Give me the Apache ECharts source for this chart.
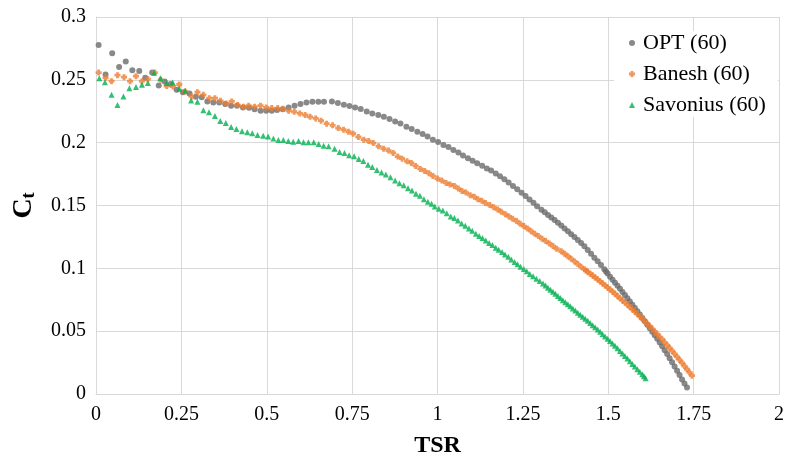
<!DOCTYPE html>
<html>
<head>
<meta charset="utf-8">
<script src="https://cdn.jsdelivr.net/npm/echarts@6/dist/echarts.min.js"></script>
<style>
html,body{margin:0;padding:0;background:#fff;}
#chart{width:787px;height:463px;}
</style>
</head>
<body>
<div id="chart"></div>
<script>
// ---- data ----
const seriesNames = ['OPT (60)', 'Banesh (60)', 'Savonius (60)'];
const xTickLabels = ['0','0.25','0.5','0.75','1','1.25','1.5','1.75','2'];
const yTickLabels = ['0','0.05','0.1','0.15','0.2','0.25','0.3'];

const optTsr = [0.0077,0.028,0.0474,0.0677,0.0871,0.1064,0.1267,0.1442,0.1645,0.1838,0.2012,0.2187,0.2361,0.2545,0.2738,0.2922,0.3096,0.326,0.3435,0.3609,0.3783,0.3957,0.4131,0.4305,0.448,0.4644,0.4818,0.4983,0.5147,0.5302,0.5466,0.564,0.5815,0.5989,0.6163,0.6337,0.6511,0.6676,
0.6909,0.7083,0.7258,0.7422,0.7587,0.7752,0.7926,0.8091,0.8266,0.843,0.8595,0.876,0.8915,0.9089,0.9244,0.9409,0.9564,0.9709,0.9864,1.0019,1.0174,1.032,1.0465,1.0611,1.0746,1.0891,1.1027,1.1163,1.1308,1.1444,1.157,1.1705,1.1831,1.1957,1.2083,1.2209,1.2335,1.2461,1.2578,1.2694,1.281,
1.2917,1.3043,1.314,1.3236,1.3333,1.343,1.3527,1.3624,1.3721,1.3818,1.3915,1.4012,1.4109,1.4205,1.4302,1.4399,1.4496,1.4593,1.469,1.4787,1.4884,
1.4932,1.4981,1.5053,1.5126,1.5198,1.5271,1.5344,1.5417,1.5489,1.5562,1.5634,1.5707,1.578,1.5853,1.5925,1.5998,1.607,1.6143,1.6216,1.6289,1.6361,1.6434,1.6506,1.6579,1.6652,1.6725,1.6797,1.687,1.6943,1.7016,1.7088,1.7161,1.7233,1.7306];
const optCt = [0.2778,0.2542,0.2712,0.2603,0.2646,0.2577,0.2571,0.2516,0.2558,0.2455,0.2487,0.2466,0.2421,0.2402,0.2392,0.2365,0.2362,0.2328,0.232,0.232,0.2307,0.2294,0.2294,0.228,0.2278,0.2265,0.2254,0.2254,0.2254,0.2259,0.2265,0.228,0.2294,0.2307,0.232,0.2325,0.2325,0.2325,
0.2328,0.2315,0.2302,0.2291,0.228,0.2267,0.2249,0.2233,0.222,0.2206,0.2188,0.2169,0.2153,0.2127,0.2108,0.2087,0.2069,0.205,0.2024,0.2005,0.1981,0.1966,0.1942,0.1921,0.1897,0.1876,0.1857,0.1836,0.1817,0.1794,0.1778,0.1754,0.1733,0.1708,0.1683,0.1656,0.1629,0.1601,0.1575,0.1548,0.1521,
0.1495,0.1467,0.1446,0.1425,0.1405,0.1384,0.1362,0.134,0.1317,0.1295,0.1272,0.1249,0.1226,0.1201,0.1176,0.1146,0.1117,0.1085,0.1056,0.1027,0.0992,
0.0975,0.0958,0.0934,0.091,0.0886,0.0862,0.0837,0.0812,0.0787,0.0762,0.0737,0.0711,0.0685,0.0658,0.0632,0.0605,0.0578,0.0551,0.0523,0.0495,0.0467,0.0439,0.041,0.038,0.0349,0.0318,0.0285,0.0252,0.0219,0.0185,0.0151,0.0116,0.0084,0.0051];

const baneshTsr = [0.0077,0.028,0.0455,0.0629,0.0822,0.0997,0.1171,0.1345,0.1519,0.1722,0.1896,0.207,0.2254,0.2438,0.2612,0.2796,0.297,0.3144,0.3318,0.3483,0.3647,0.3812,0.3976,0.4151,0.4315,0.447,0.4644,0.4818,0.4983,0.5147,0.5321,0.5476,0.564,0.5805,0.5969,0.6124,0.6269,0.6434,0.6589,0.6753,
0.6928,0.7093,0.7248,0.7393,0.7529,0.7684,0.7839,0.7984,0.812,0.8275,0.842,0.8566,0.8702,0.8837,0.8963,0.9109,0.9234,0.936,0.9496,0.9622,0.9748,0.9864,1.0,1.0126,1.0252,1.0368,1.0494,1.061,1.0717,1.0833,1.0959,1.1076,1.1182,1.1298,1.1405,1.1531,
1.1647,1.1764,1.187,1.1986,1.2093,1.22,1.2316,1.2422,1.2529,1.2636,1.2742,1.2849,1.2955,1.3062,1.3169,1.3275,1.3382,1.3488,
1.3624,1.3721,1.3818,1.3915,1.4012,1.4109,1.4205,1.4302,
1.435,1.4399,1.4472,1.4545,1.4617,1.469,1.4763,1.4835,1.4908,1.4981,1.5053,1.5126,1.5198,1.5271,1.5344,1.5417,1.5489,1.5562,1.5634,1.5707,1.578,1.5853,1.5925,1.5998,1.607,1.6143,1.6216,1.6289,1.6361,1.6434,1.6506,1.6579,1.6652,1.6725,1.6797,1.687,1.6943,1.7016,1.7088,1.7161,1.7233,1.7306,1.7379,1.7452];
const baneshCt = [0.2558,0.2516,0.2489,0.2537,0.2521,0.2489,0.2529,0.2489,0.2505,0.2558,0.25,0.245,0.2447,0.2463,0.2407,0.2368,0.2402,0.2381,0.2354,0.2354,0.2333,0.2312,0.2328,0.2299,0.2286,0.2294,0.2286,0.2294,0.228,0.2275,0.2275,0.227,0.2254,0.2246,0.2233,0.222,0.2206,0.2193,0.2175,0.2151,
0.2138,0.2116,0.2103,0.2087,0.2071,0.2045,0.2024,0.2013,0.1997,0.1971,0.1952,0.1937,0.1918,0.1889,0.1873,0.1852,0.1839,0.1815,0.1791,0.1775,0.1757,0.1735,0.1714,0.1698,0.168,0.1667,0.1656,0.1635,0.1616,0.1603,0.1582,0.1569,0.155,0.1537,0.1519,0.1503,
0.1487,0.1468,0.145,0.1431,0.1413,0.1394,0.1376,0.1354,0.1336,0.1317,0.1296,0.1275,0.1257,0.1235,0.1217,0.1198,0.1177,0.1156,
0.1136,0.1116,0.1096,0.1076,0.1055,0.1034,0.1012,0.0992,
0.0983,0.0972,0.0957,0.0942,0.0927,0.0912,0.0896,0.088,0.0864,0.0848,0.0831,0.0814,0.0797,0.0779,0.0762,0.0745,0.0728,0.071,0.0692,0.0673,0.0655,0.0636,0.0617,0.0598,0.0579,0.0559,0.0539,0.0519,0.0498,0.0476,0.0455,0.0434,0.0411,0.0388,0.0366,0.0343,0.0319,0.0295,0.0271,0.0247,0.0222,0.0197,0.0172,0.0146];

const savTsr = [0.0097,0.0261,0.0455,0.0629,0.0803,0.0977,0.1171,0.1345,0.1519,0.1703,0.1887,0.207,0.2245,0.2438,0.2612,0.2786,0.297,0.3144,0.3309,0.3483,0.3638,0.3802,0.3957,0.4112,0.4276,0.4431,0.4576,0.4731,0.4895,0.504,0.5195,0.534,0.5486,0.5631,0.5776,0.5931,0.6076,0.6221,0.6376,0.6521,0.6666,0.6811,
0.6986,0.7132,0.7277,0.7413,0.7558,0.7694,0.783,0.7965,0.8091,0.8227,0.8362,0.8488,0.8624,0.876,0.8886,0.9012,0.9138,0.9254,0.937,0.9486,0.9603,0.9719,0.9826,
0.9922,1.0039,1.0155,1.0271,1.0388,1.0494,1.0601,1.0707,1.0814,1.0921,1.1017,1.1124,1.1221,1.1318,1.1415,1.1512,1.1609,1.1705,1.1792,1.189,1.1977,1.2074,1.2161,1.2258,1.2345,1.2432,1.2529,1.2616,1.2703,1.28,1.2897,1.2994,
1.3091,1.3164,1.3236,1.3309,1.3382,1.3454,1.3527,1.36,1.3672,1.3745,1.3818,1.389,1.3963,1.4036,1.4109,1.4181,1.4254,1.4326,1.4399,1.4472,1.4545,1.4617,1.469,1.4763,1.4835,1.4908,1.4981,1.5053,1.5126,1.5198,1.5271,1.5344,1.5417,1.5489,1.5562,1.5634,1.5707,1.578,1.5853,1.5925,1.5998,1.6047,1.6095];
const savCt = [0.2513,0.2481,0.2381,0.2299,0.2368,0.2434,0.2442,0.246,0.2474,0.2556,0.2513,0.2474,0.2479,0.2429,0.2413,0.2336,0.2325,0.2257,0.2243,0.2212,0.2172,0.2156,0.2124,0.2108,0.209,0.2082,0.2074,0.2061,0.2056,0.205,0.2034,0.2021,0.2021,0.2013,0.2008,0.2013,0.2003,0.2003,0.2003,0.1989,0.1976,0.1971,
0.1952,0.1926,0.1918,0.1899,0.1892,0.187,0.1854,0.1825,0.1807,0.1783,0.1762,0.1746,0.1725,0.1698,0.1677,0.1661,0.1638,0.1619,0.1593,0.1577,0.155,0.1529,0.1513,
0.1492,0.1474,0.146,0.1439,0.1413,0.14,0.1381,0.1357,0.1339,0.1317,0.1299,0.1275,0.1257,0.1241,0.1222,0.1201,0.1185,0.1164,0.1148,0.113,0.1111,0.1093,0.1071,0.105,0.1032,0.1013,0.0995,0.0976,0.0955,0.0937,0.0918,0.0899,
0.088,0.0863,0.0846,0.083,0.0814,0.0797,0.0779,0.0763,0.0747,0.0731,0.0715,0.0698,0.0681,0.0664,0.0646,0.063,0.0614,0.0598,0.0582,0.0565,0.0548,0.0531,0.0513,0.0495,0.0476,0.0458,0.0439,0.0421,0.0402,0.0383,0.0364,0.0343,0.0322,0.0302,0.0282,0.0261,0.0239,0.0218,0.0197,0.0177,0.0157,0.0141,0.0125];

// ---- chart ----
const FONT = '"Liberation Serif", "Times New Roman", serif';
const zip = (xs, ys) => xs.map((x, i) => [x, ys[i]]);
const plusPath = 'path://M1.6,0H4.4V1.6H6V4.4H4.4V6H1.6V4.4H0V1.6H1.6Z';

const chart = echarts.init(document.getElementById('chart'), null, {renderer: 'canvas'});
chart.setOption({
  animation: false,
  backgroundColor: '#fff',
  grid: {left: 96, right: 5, top: 17, bottom: 69},
  legend: {
    orient: 'vertical',
    left: 614, top: 31,
    padding: [1, 12, 1, 15],
    backgroundColor: '#fff',
    itemWidth: 6, itemHeight: 6,
    itemGap: 9,
    textStyle: {fontFamily: FONT, fontSize: 22, color: '#000', lineHeight: 22, padding: [0, 0, 0, 3]},
    data: [
      {name: seriesNames[0], icon: 'circle'},
      {name: seriesNames[1], icon: plusPath},
      {name: seriesNames[2], icon: 'triangle'}
    ]
  },
  xAxis: {
    type: 'value', min: 0, max: 2, interval: 0.25,
    name: 'TSR', nameLocation: 'middle', nameGap: 40,
    nameTextStyle: {fontFamily: FONT, fontSize: 24, fontWeight: 'bold', color: '#000'},
    axisLine: {show: true, lineStyle: {color: '#d9d9d9', width: 1}},
    axisTick: {show: false},
    splitLine: {show: true, lineStyle: {color: '#d9d9d9', width: 1}},
    axisLabel: {
      fontFamily: FONT, fontSize: 20, color: '#000', margin: 11,
      formatter: v => xTickLabels[Math.round(v / 0.25)]
    }
  },
  yAxis: {
    type: 'value', min: 0, max: 0.3, interval: 0.05,
    name: '{c|C}{t|t}', nameLocation: 'middle', nameRotate: 90, nameGap: 58,
    nameTextStyle: {
      color: '#000',
      rich: {
        c: {fontFamily: FONT, fontSize: 28, fontWeight: 'bold', color: '#000', lineHeight: 28, verticalAlign: 'top'},
        t: {fontFamily: FONT, fontSize: 18, fontWeight: 'bold', color: '#000', lineHeight: 18, verticalAlign: 'bottom', padding: [12, 0, 0, 0]}
      }
    },
    axisLine: {show: true, lineStyle: {color: '#d9d9d9', width: 1}},
    axisTick: {show: false},
    splitLine: {show: true, lineStyle: {color: '#d9d9d9', width: 1}},
    axisLabel: {
      fontFamily: FONT, fontSize: 20, color: '#000', margin: 10,
      formatter: v => yTickLabels[Math.round(v / 0.05)]
    }
  },
  series: [
    {name: seriesNames[0], type: 'scatter', symbol: 'circle', symbolSize: 6,
     itemStyle: {color: '#6b6b6b'}, data: zip(optTsr, optCt)},
    {name: seriesNames[1], type: 'scatter', symbol: plusPath, symbolSize: 6,
     itemStyle: {color: '#ED7D31'}, data: zip(baneshTsr, baneshCt)},
    {name: seriesNames[2], type: 'scatter', symbol: 'triangle', symbolSize: 6,
     itemStyle: {color: '#00B050'}, data: zip(savTsr, savCt)}
  ]
});
</script>
</body>
</html>
